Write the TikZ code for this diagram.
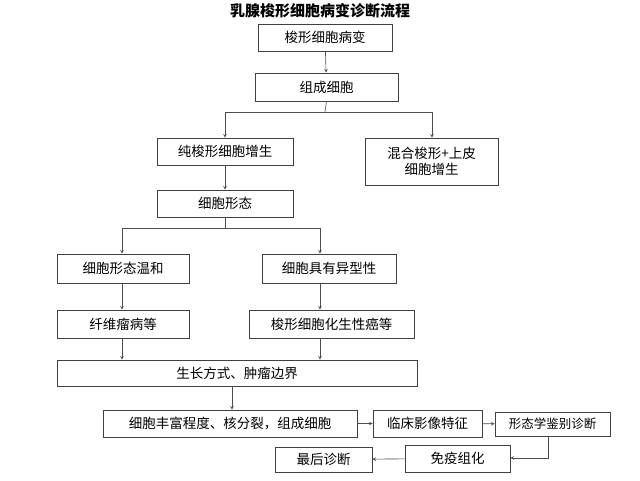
\documentclass[tikz,border=0pt]{standalone}
\usepackage{fontspec}
\setmainfont{Noto Sans CJK SC}
\begin{document}
\begin{tikzpicture}[x=1pt,y=-1pt,
 bx/.style={draw=black!75,line width=0.8pt,inner sep=0pt,font=\fontsize{13.5}{16}\selectfont,align=center},
 ar/.style={draw=black!70,line width=0.6pt,->,>=stealth}]
\useasboundingbox[fill=white] (0,0) rectangle (640,480);
\newcommand\bxx[6]{\node[bx,minimum width=#3-#2,minimum height=#5-#4] (#1) at ({(#2+#3)/2},{(#4+#5)/2}) {#6};}
\node[font=\bfseries\fontsize{15}{17}\selectfont] (t) at (320,11) {乳腺梭形细胞病变诊断流程};
\bxx{b1}{258}{392}{24}{51}{梭形细胞病变}
\bxx{b2}{255}{398}{73}{101}{组成细胞}
\bxx{b3}{157}{293}{138}{165}{纯梭形细胞增生}
\bxx{b4}{365}{498}{138}{185}{混合梭形+上皮\\细胞增生}
\bxx{b5}{157}{293}{190}{217}{细胞形态}
\bxx{b6}{57}{189}{254}{283}{细胞形态温和}
\bxx{b7}{262}{396}{254}{283}{细胞具有异型性}
\bxx{b8}{57}{189}{310}{338}{纤维瘤病等}
\bxx{b9}{249}{414}{310}{338}{梭形细胞化生性癌等}
\bxx{b10}{57}{417}{360}{386}{生长方式、肿瘤边界}
\bxx{b11}{103}{357}{410}{437}{细胞丰富程度、核分裂，组成细胞}
\bxx{b12}{373}{482}{410}{437}{临床影像特征}
\bxx{b13}{495}{610}{412}{436}{\fontsize{12.5}{15}\selectfont 形态学鉴别诊断}
\bxx{b14}{405}{510}{445}{472}{免疫组化}
\bxx{b15}{275}{372}{447}{472}{最后诊断}
\draw[ar] (b1) -- (b2);
\coordinate (j1) at (325,112);
\draw[draw=black!70,line width=0.6pt] (b2.south) -- (j1);
\draw[ar] (j1) -| (b3.north -| 225,0);
\draw[ar] (j1) -| (b4.north -| 432,0);
\draw[ar] (b3) -- (b5);
\coordinate (j2) at (225,228);
\draw[draw=black!70,line width=0.6pt] (b5.south) -- (j2);
\draw[ar] (j2) -| (b6.north -| 122,0);
\draw[ar] (j2) -| (b7.north -| 320,0);
\draw[ar] (b6.south -| 122,0) -- (b8.north -| 122,0);
\draw[ar] (b7.south -| 320,0) -- (b9.north -| 320,0);
\draw[ar] (b8.south -| 122,0) -- (b10.north -| 122,0);
\draw[ar] (b9.south -| 320,0) -- (b10.north -| 320,0);
\draw[ar] (b10.south -| 232,0) -- (b11.north -| 232,0);
\draw[ar] (b11) -- (b12);
\draw[ar] (b12) -- (b13);
\draw[ar] (b13.south -| 548,0) |- (b14.east |- 0,458);
\draw[ar] (b14) -- (b15);
\end{tikzpicture}
\end{document}
